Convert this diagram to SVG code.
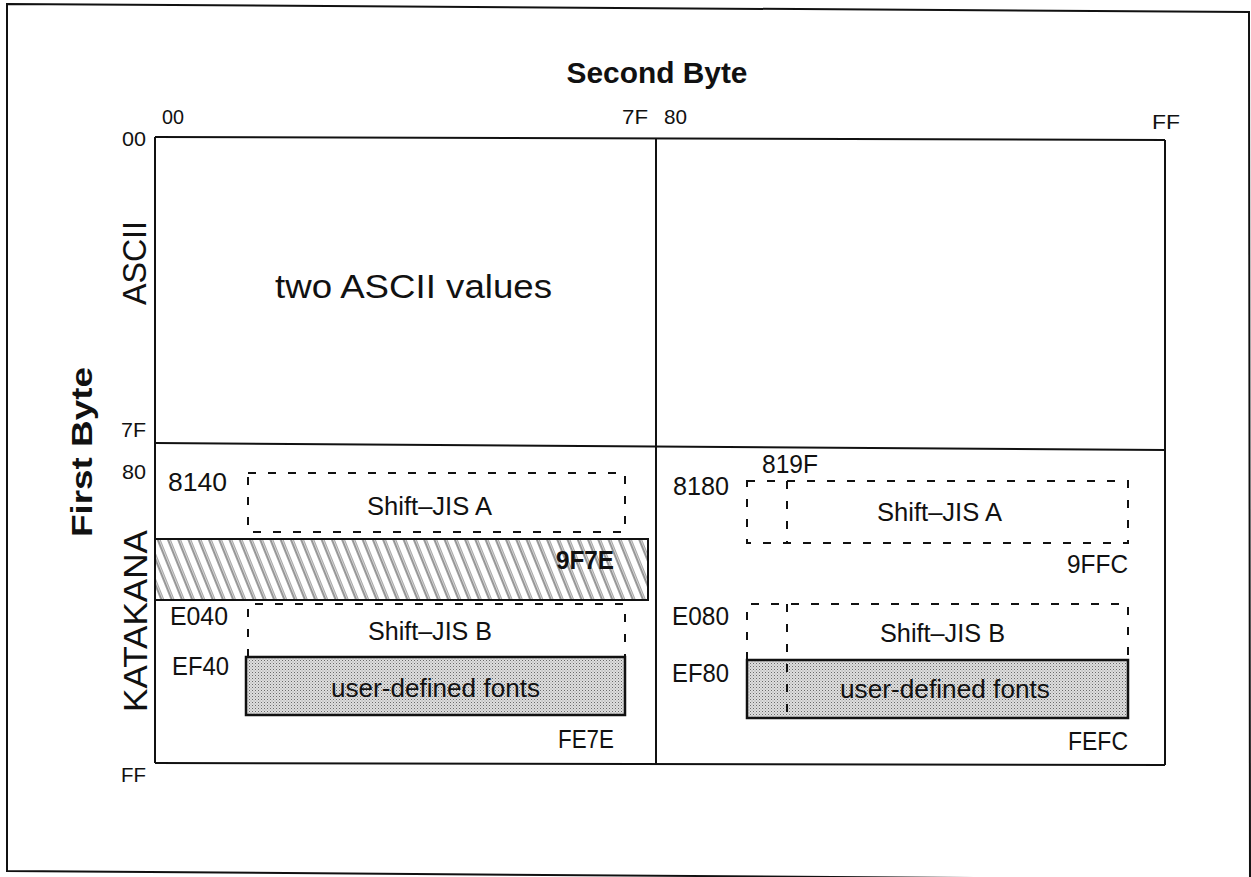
<svg xmlns="http://www.w3.org/2000/svg" width="1251" height="877" viewBox="0 0 1251 877">
<style>
  text { font-family: "Liberation Sans", Arial, sans-serif; fill: #111; }
  .lbl { font-size: 25px; }
  .axis { font-size: 21px; }
  .title { font-size: 29px; font-weight: bold; }
  .big { font-size: 33px; }
  .mid { font-size: 25px; }
  .solid { fill: none; stroke: #111; stroke-width: 2; }
  .dash { fill: none; stroke: #111; stroke-width: 2; stroke-dasharray: 8 12; }
  .grey { fill: url(#stipple); stroke: #111; stroke-width: 2.5; }
  .hatch { fill: url(#hatch); stroke: #111; stroke-width: 2; }
</style>
<defs>
  <pattern id="stipple" patternUnits="userSpaceOnUse" width="3" height="3">
    <rect width="3" height="3" fill="#dedede"/>
    <rect x="0" y="0" width="1" height="1" fill="#6a6a6a"/>
    <rect x="1.5" y="1.5" width="1" height="1" fill="#9a9a9a"/>
  </pattern>
  <pattern id="hatch" patternUnits="userSpaceOnUse" width="9.5" height="20" patternTransform="rotate(-22)">
    <rect width="9.5" height="20" fill="#fff"/>
    <line x1="1" y1="0" x2="1" y2="20" stroke="#222" stroke-width="0.9"/>
    <line x1="3" y1="0" x2="3" y2="20" stroke="#444" stroke-width="0.7"/>
  </pattern>
</defs>

<rect width="1251" height="877" fill="#fff"/>

<!-- outer frame -->
<g id="frame">
  <polygon points="7,4 1249,12 1250,880 7,871" class="solid" stroke-width="2.5"/>
</g>

<!-- grid / axes -->
<g id="grid">
  <line x1="155" y1="137" x2="1165" y2="140" class="solid"/>
  <line x1="155" y1="137" x2="155" y2="763" class="solid"/>
  <line x1="1165" y1="140" x2="1165" y2="765" class="solid"/>
  <line x1="155" y1="763" x2="1165" y2="765" class="solid"/>
  <line x1="656" y1="138" x2="656" y2="764" class="solid"/>
  <line x1="155" y1="443" x2="1165" y2="450" class="solid"/>
</g>

<g id="axis-labels">
  <text x="657" y="83" class="title" text-anchor="middle" textLength="181" lengthAdjust="spacingAndGlyphs">Second Byte</text>
  <text x="162" y="124" class="axis" textLength="22" lengthAdjust="spacingAndGlyphs">00</text>
  <text x="622" y="124" class="axis" textLength="26" lengthAdjust="spacingAndGlyphs">7F</text>
  <text x="664" y="124" class="axis" textLength="23" lengthAdjust="spacingAndGlyphs">80</text>
  <text x="1152" y="129" class="axis" textLength="28" lengthAdjust="spacingAndGlyphs">FF</text>
  <text x="122" y="146" class="axis" textLength="24" lengthAdjust="spacingAndGlyphs">00</text>
  <text x="121" y="437" class="axis" textLength="25" lengthAdjust="spacingAndGlyphs">7F</text>
  <text x="122" y="479" class="axis" textLength="24" lengthAdjust="spacingAndGlyphs">80</text>
  <text x="121" y="782" class="axis" textLength="25" lengthAdjust="spacingAndGlyphs">FF</text>
  <text transform="translate(92,452) rotate(-90)" class="title" text-anchor="middle" textLength="170" lengthAdjust="spacingAndGlyphs">First Byte</text>
  <text transform="translate(146,263) rotate(-90)" class="big" text-anchor="middle" textLength="84" lengthAdjust="spacingAndGlyphs">ASCII</text>
  <text transform="translate(147,621) rotate(-90)" class="big" text-anchor="middle" textLength="182" lengthAdjust="spacingAndGlyphs">KATAKANA</text>
</g>

<g id="ascii-region">
  <text x="275" y="298" font-size="33" textLength="277" lengthAdjust="spacingAndGlyphs">two ASCII values</text>
</g>

<!-- left lower quadrant -->
<g id="katakana-band">
  <rect x="155" y="539" width="493" height="61" class="hatch"/>
  <text x="556" y="569" class="lbl" font-weight="bold" textLength="58" lengthAdjust="spacingAndGlyphs">9F7E</text>
</g>

<g id="sjis-a-left">
  <rect x="248" y="473" width="377" height="59" class="dash"/>
  <text x="168" y="491" class="lbl" textLength="59" lengthAdjust="spacingAndGlyphs">8140</text>
  <text x="367" y="515" class="mid" textLength="125" lengthAdjust="spacingAndGlyphs">Shift–JIS A</text>
</g>

<g id="sjis-b-left">
  <polyline points="248,657 248,604 625,604 625,657" class="dash"/>
  <text x="170" y="625" class="lbl" textLength="58" lengthAdjust="spacingAndGlyphs">E040</text>
  <text x="368" y="640" class="mid" textLength="124" lengthAdjust="spacingAndGlyphs">Shift–JIS B</text>
</g>

<g id="user-left">
  <rect x="246" y="657" width="379" height="58" class="grey"/>
  <text x="172" y="675" class="lbl" textLength="57" lengthAdjust="spacingAndGlyphs">EF40</text>
  <text x="331" y="697" font-size="26" textLength="209" lengthAdjust="spacingAndGlyphs">user-defined fonts</text>
  <text x="558" y="748" class="lbl" textLength="56" lengthAdjust="spacingAndGlyphs">FE7E</text>
</g>

<!-- right lower quadrant -->
<g id="sjis-a-right">
  <rect x="747" y="481" width="381" height="62" class="dash"/>
  <line x1="787" y1="481" x2="787" y2="543" class="dash"/>
  <text x="762" y="473" class="lbl" textLength="56" lengthAdjust="spacingAndGlyphs">819F</text>
  <text x="673" y="495" class="lbl" textLength="56" lengthAdjust="spacingAndGlyphs">8180</text>
  <text x="877" y="521" class="mid" textLength="125" lengthAdjust="spacingAndGlyphs">Shift–JIS A</text>
  <text x="1067" y="573" class="lbl" textLength="61" lengthAdjust="spacingAndGlyphs">9FFC</text>
</g>

<g id="sjis-b-right">
  <polyline points="747,660 747,604 1128,604 1128,660" class="dash"/>
  <text x="672" y="625" class="lbl" textLength="57" lengthAdjust="spacingAndGlyphs">E080</text>
  <text x="880" y="642" class="mid" textLength="125" lengthAdjust="spacingAndGlyphs">Shift–JIS B</text>
</g>

<g id="user-right">
  <rect x="747" y="660" width="381" height="58" class="grey"/>
  <text x="672" y="682" class="lbl" textLength="57" lengthAdjust="spacingAndGlyphs">EF80</text>
  <text x="840" y="698" font-size="26" textLength="210" lengthAdjust="spacingAndGlyphs">user-defined fonts</text>
  <text x="1068" y="750" class="lbl" textLength="60" lengthAdjust="spacingAndGlyphs">FEFC</text>
</g>

<g id="connectors">
  <line x1="787" y1="604" x2="787" y2="718" class="dash"/>
</g>
</svg>
